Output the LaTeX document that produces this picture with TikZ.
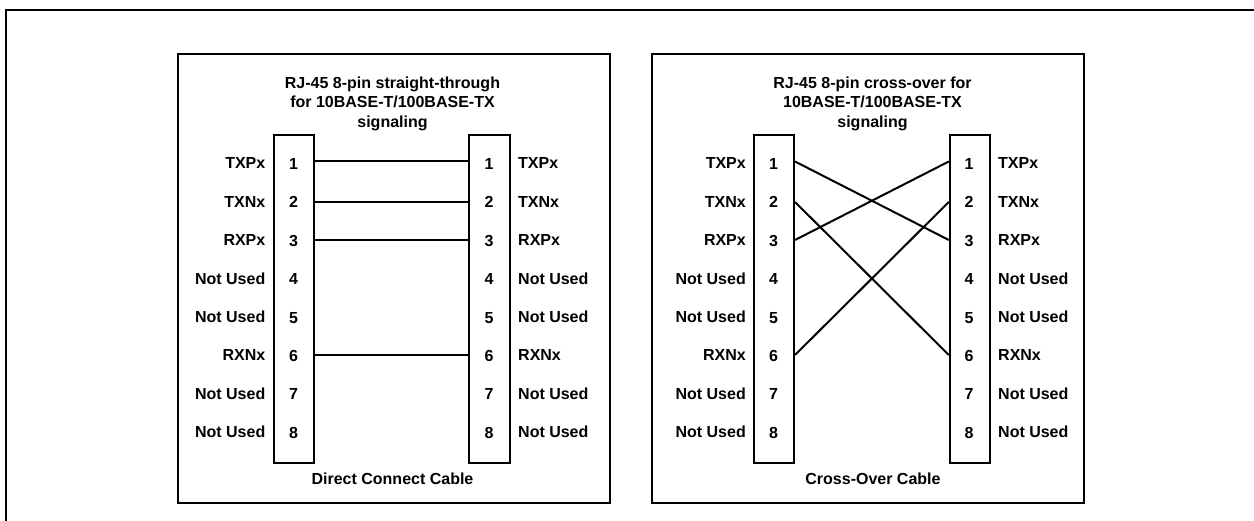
\documentclass[tikz,border=0pt]{standalone}
\usepackage{fontspec}
\setmainfont{Liberation Sans}
\tikzset{
  panelbox/.style={draw,line width=2pt,minimum height=449.5,anchor=north west,inner sep=0},
  connbox/.style={draw,line width=2pt,minimum width=40,minimum height=328.3,anchor=north west,inner sep=0},
  pinnum/.style={font=\fontsize{16}{19}\bfseries\selectfont,inner sep=0},
  pinlabel/.style={font=\fontsize{16}{19}\bfseries\selectfont,inner sep=0},
  caption/.style={font=\fontsize{16}{19.5}\bfseries\selectfont,align=center,inner sep=0},
  wire/.style={line width=2pt}
}
\begin{document}
\begin{tikzpicture}[x=1pt,y=-1pt]
  \useasboundingbox (0,0) rectangle (1254,521);
  \draw[line width=2pt] (6,521) -- (6,10) -- (1254,10);
  % panels
  \node[panelbox,minimum width=432] (lpanel) at (177.3,52.7) {};
  \node[panelbox,minimum width=432.5] (rpanel) at (650.7,52.7) {};
  \node[caption] (ltitle) at (392.5,103.5) {RJ-45 8-pin straight-through\\for 10BASE-T/100BASE-TX\\signaling};
  \node[caption] (rtitle) at (872.5,103.5) {RJ-45 8-pin cross-over for\\10BASE-T/100BASE-TX\\signaling};
  \node[caption] (lcap) at (392.5,479) {Direct Connect Cable};
  \node[caption] (rcap) at (873,479) {Cross-Over Cable};
  % connectors
  \node[connbox] (la) at (272.8,134) {};
  \node[connbox,minimum width=41] (lb) at (468,134) {};
  \node[connbox] (ra) at (753,134) {};
  \node[connbox] (rb) at (948.8,134) {};
  % pins
  \foreach \n/\ywire/\name [count=\i from 0] in {1/161.5/TXPx,2/202/TXNx,3/240/RXPx,4/278/Not Used,5/316/Not Used,6/355/RXNx,7/393/Not Used,8/431/Not Used}{
    \pgfmathsetmacro{\ypin}{164+38.4*\i}
    \pgfmathsetmacro{\ylab}{163.3+38.35*\i}
    \coordinate (w\n) at (0,\ywire);
    \node[pinnum] (la\n) at (293.5,\ypin) {\n};
    \node[pinnum] (lb\n) at (489,\ypin) {\n};
    \node[pinnum] (ra\n) at (773.5,\ypin) {\n};
    \node[pinnum] (rb\n) at (969,\ypin) {\n};
    \node[pinlabel,anchor=east] (lan\n) at (265.5,\ylab) {\name};
    \node[pinlabel,anchor=west] (lbn\n) at (518,\ylab) {\name};
    \node[pinlabel,anchor=east] (ran\n) at (746,\ylab) {\name};
    \node[pinlabel,anchor=west] (rbn\n) at (998,\ylab) {\name};
  }
  % wires
  \foreach \a in {1,2,3,6}
    \draw[wire] (w\a -| la.east) -- (w\a -| lb.west);
  \foreach \a/\b in {1/3,2/6,3/1,6/2}
    \draw[wire] (w\a -| ra.east) -- (w\b -| rb.west);
\end{tikzpicture}
\end{document}
